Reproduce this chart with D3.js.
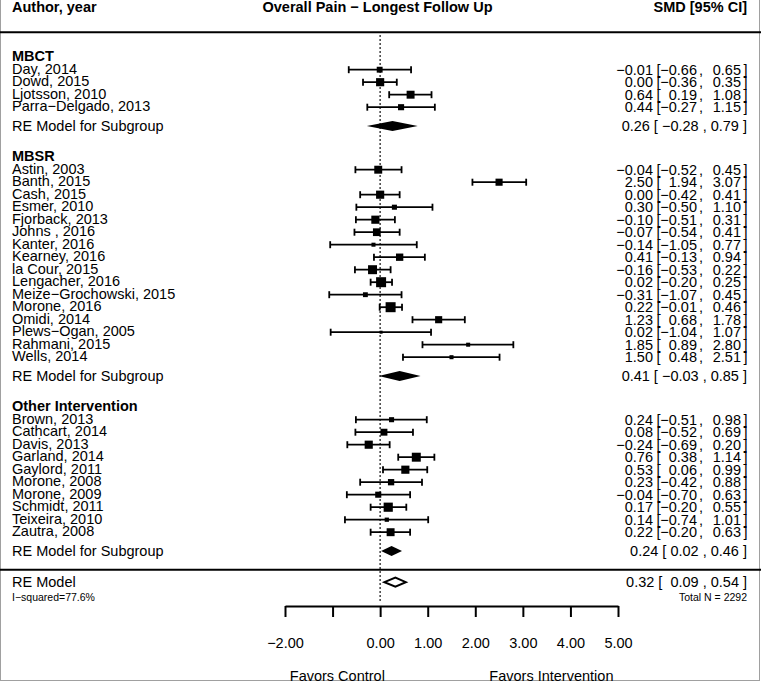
<!DOCTYPE html>
<html>
<head>
<meta charset="utf-8">
<script src="https://cdn.jsdelivr.net/npm/d3@7"></script>
<style>
  html, body { margin: 0; padding: 0; background: #fff; }
  svg { display: block; }
  text { font-family: "Liberation Sans", Arial, Helvetica, sans-serif; fill: #000; }
</style>
</head>
<body>
<svg id="chart" width="761" height="682"></svg>
<script>
// ---------------- data ----------------
const groups = ["MBCT", "MBSR", "Other Intervention"];

const studyLabels = [
  "Day, 2014", "Dowd, 2015", "Ljotsson, 2010", "Parra\u2212Delgado, 2013",
  "Astin, 2003", "Banth, 2015", "Cash, 2015", "Esmer, 2010", "Fjorback, 2013",
  "Johns , 2016", "Kanter, 2016", "Kearney, 2016", "la Cour, 2015", "Lengacher, 2016",
  "Meize\u2212Grochowski, 2015", "Morone, 2016", "Omidi, 2014", "Plews\u2212Ogan, 2005",
  "Rahmani, 2015", "Wells, 2014",
  "Brown, 2013", "Cathcart, 2014", "Davis, 2013", "Garland, 2014", "Gaylord, 2011",
  "Morone, 2008", "Morone, 2009", "Schmidt, 2011", "Teixeira, 2010", "Zautra, 2008"
];
const studyGroup = [
  0, 0, 0, 0,
  1, 1, 1, 1, 1, 1, 1, 1, 1, 1, 1, 1, 1, 1, 1, 1,
  2, 2, 2, 2, 2, 2, 2, 2, 2, 2
];
const studyEst = [
  -0.01, 0.00, 0.64, 0.44,
  -0.04, 2.50, 0.00, 0.30, -0.10, -0.07, -0.14, 0.41, -0.16, 0.02, -0.31, 0.22, 1.23, 0.02, 1.85, 1.50,
  0.24, 0.08, -0.24, 0.76, 0.53, 0.23, -0.04, 0.17, 0.14, 0.22
];
const studyLower = [
  -0.66, -0.36, 0.19, -0.27,
  -0.52, 1.94, -0.42, -0.50, -0.51, -0.54, -1.05, -0.13, -0.53, -0.20, -1.07, -0.01, 0.68, -1.04, 0.89, 0.48,
  -0.51, -0.52, -0.69, 0.38, 0.06, -0.42, -0.70, -0.20, -0.74, -0.20
];
const studyUpper = [
  0.65, 0.35, 1.08, 1.15,
  0.45, 3.07, 0.41, 1.10, 0.31, 0.41, 0.77, 0.94, 0.22, 0.25, 0.45, 0.46, 1.78, 1.07, 2.80, 2.51,
  0.98, 0.69, 0.20, 1.14, 0.99, 0.88, 0.63, 0.55, 1.01, 0.63
];
// estimated study weights (%) read from the square sizes
const studyWeight = [
  3.0, 4.1, 4.0, 3.1,
  4.0, 3.6, 4.1, 2.6, 4.1, 3.9, 2.1, 3.7, 4.5, 5.0, 2.5, 5.0, 3.6, 1.6, 2.1, 2.1,
  2.6, 3.5, 4.1, 4.5, 4.1, 3.2, 3.1, 4.6, 2.2, 4.0
];

const subgroupEst   = [0.26, 0.41, 0.24];
const subgroupLower = [-0.28, -0.03, 0.02];
const subgroupUpper = [0.79, 0.85, 0.46];

const overallEst = 0.32, overallLower = 0.09, overallUpper = 0.54;
const iSquared = "I\u2212squared=77.6%";
const totalN = "Total N = 2292";

const tickValues = [-2, -1, 0, 1, 2, 3, 4, 5];
const tickLabels = ["\u22122.00", "", "0.00", "1.00", "2.00", "3.00", "4.00", "5.00"];

const titleText = "Overall Pain \u2212 Longest Follow Up";
const leftHeader = "Author, year";
const rightHeader = "SMD [95% CI]";
const favorsLeft = "Favors Control";
const favorsRight = "Favors Intervention";

// ---------------- layout ----------------
const W = 761, H = 682;
const svg = d3.select("#chart");

const x = d3.scaleLinear().domain([-2, 5]).range([285, 618]);
const y = d3.scaleLinear().domain([0, 41]).range([69.7, 582.2]);
const sq = d3.scaleLinear().domain(d3.extent(studyWeight)).range([3, 10]);

const fmt = d3.format(".2f");
const labelX = 12;
const rightEdge = 747;
const FS = 14.5;

// compute row positions
let row = -1;
const headerRows = [], reRows = [], studyRows = new Array(studyLabels.length);
groups.forEach((g, gi) => {
  headerRows.push(row);
  let r = row;
  studyLabels.forEach((s, i) => {
    if (studyGroup[i] === gi) { r += 1; studyRows[i] = r; }
  });
  const re = r + 1.5;
  reRows.push(re);
  row = re + 2.5;
});
const sepRow = reRows[reRows.length - 1] + 1.5;
const overallRow = sepRow + 1;

// frame
svg.append("rect").attr("x", 0.5).attr("y", -2).attr("width", 759).attr("height", 682.5)
  .attr("fill", "none").attr("stroke", "#a0a0a0").attr("stroke-width", 1);

// headers
const headY = 12;
svg.append("text").attr("x", labelX).attr("y", headY).attr("font-size", FS)
  .attr("font-weight", "bold").text(leftHeader);
svg.append("text").attr("x", 377.5).attr("y", headY).attr("font-size", FS)
  .attr("font-weight", "bold").attr("text-anchor", "middle").text(titleText);
svg.append("text").attr("x", rightEdge).attr("y", headY).attr("font-size", FS)
  .attr("font-weight", "bold").attr("text-anchor", "end").text(rightHeader);

// horizontal rules
svg.append("line").attr("x1", 0).attr("x2", W).attr("y1", y(-3)).attr("y2", y(-3))
  .attr("stroke", "#000").attr("stroke-width", 2);
svg.append("line").attr("x1", 0).attr("x2", W).attr("y1", y(sepRow)).attr("y2", y(sepRow))
  .attr("stroke", "#000").attr("stroke-width", 2);

// reference line at 0
svg.append("line").attr("x1", x(0)).attr("x2", x(0)).attr("y1", y(-2.75)).attr("y2", y(42.6))
  .attr("stroke", "#000").attr("stroke-width", 1.5).attr("stroke-dasharray", "1.5,2.5");

// group headers
groups.forEach((g, gi) => {
  svg.append("text").attr("x", labelX).attr("y", y(headerRows[gi]) + 4)
    .attr("font-size", FS).attr("font-weight", "bold").text(g);
});

// studies
const st = svg.append("g");
studyLabels.forEach((lab, i) => {
  const yy = y(studyRows[i]);
  st.append("text").attr("x", labelX).attr("y", yy + 4).attr("font-size", FS).text(lab);
  // CI
  st.append("line").attr("x1", x(studyLower[i])).attr("x2", x(studyUpper[i]))
    .attr("y1", yy).attr("y2", yy).attr("stroke", "#000").attr("stroke-width", 1.8);
  [studyLower[i], studyUpper[i]].forEach(v => {
    st.append("line").attr("x1", x(v)).attr("x2", x(v)).attr("y1", yy - 3.5).attr("y2", yy + 3.5)
      .attr("stroke", "#000").attr("stroke-width", 1.8);
  });
  const s = sq(studyWeight[i]);
  st.append("rect").attr("x", x(studyEst[i]) - s / 2).attr("y", yy - s / 2)
    .attr("width", s).attr("height", s).attr("fill", "#000");
  // annotation
  const ty = yy + 5;
  st.append("text").attr("x", 653).attr("y", ty).attr("font-size", FS).attr("text-anchor", "end").text(fmt(studyEst[i]));
  st.append("text").attr("x", 656.5).attr("y", ty).attr("font-size", FS).text("[");
  st.append("text").attr("x", 697).attr("y", ty).attr("font-size", FS).attr("text-anchor", "end").text(fmt(studyLower[i]));
  st.append("text").attr("x", 699).attr("y", ty).attr("font-size", FS).text(",");
  st.append("text").attr("x", 741).attr("y", ty).attr("font-size", FS).attr("text-anchor", "end").text(fmt(studyUpper[i]));
  st.append("text").attr("x", 743.5).attr("y", ty).attr("font-size", FS).text("]");
});

// diamond path
function diamond(est, lo, hi, yy, h) {
  return `M${x(lo)},${yy}L${x(est)},${yy - h}L${x(hi)},${yy}L${x(est)},${yy + h}Z`;
}

// subgroup summaries
groups.forEach((g, gi) => {
  const yy = y(reRows[gi]);
  svg.append("text").attr("x", labelX).attr("y", yy + 5).attr("font-size", FS).text("RE Model for Subgroup");
  svg.append("path").attr("d", diamond(subgroupEst[gi], subgroupLower[gi], subgroupUpper[gi], yy, 5))
    .attr("fill", "#000");
  svg.append("text").attr("x", rightEdge).attr("y", yy + 5).attr("font-size", FS)
    .attr("text-anchor", "end").style("white-space", "pre")
    .text(`${fmt(subgroupEst[gi])} [ ${fmt(subgroupLower[gi])} , ${fmt(subgroupUpper[gi])} ]`);
});

// overall
{
  const yy = y(overallRow);
  svg.append("text").attr("x", labelX).attr("y", yy + 5).attr("font-size", FS).text("RE Model");
  svg.append("path").attr("d", diamond(overallEst, overallLower, overallUpper, yy, 4.5))
    .attr("fill", "#fff").attr("stroke", "#000").attr("stroke-width", 2);
  svg.append("text").attr("x", rightEdge).attr("y", yy + 5).attr("font-size", FS)
    .attr("text-anchor", "end").style("white-space", "pre")
    .text(`${fmt(overallEst)} [  ${fmt(overallLower)} , ${fmt(overallUpper)} ]`);
  svg.append("text").attr("x", labelX).attr("y", y(overallRow + 1.2) + 4).attr("font-size", 10.5).text(iSquared);
  svg.append("text").attr("x", rightEdge).attr("y", y(overallRow + 1.2) + 4).attr("font-size", 10.5)
    .attr("text-anchor", "end").text(totalN);
}

// axis
const axisY = 606;
const axis = d3.axisBottom(x).tickValues(tickValues)
  .tickFormat((d, i) => tickLabels[i]).tickSizeInner(11).tickSizeOuter(0).tickPadding(21);
const ag = svg.append("g").attr("transform", `translate(0,${axisY})`).call(axis);
ag.select(".domain").attr("stroke", "#000").attr("stroke-width", 2);
ag.selectAll(".tick line").attr("stroke", "#000").attr("stroke-width", 2);
ag.selectAll(".tick text").attr("font-size", FS)
  .attr("font-family", "'Liberation Sans', Arial, sans-serif").attr("fill", "#000");

// favors labels
svg.append("text").attr("x", x(-0.9)).attr("y", 681).attr("font-size", FS)
  .attr("text-anchor", "middle").text(favorsLeft);
svg.append("text").attr("x", x(3.6)).attr("y", 681).attr("font-size", FS)
  .attr("text-anchor", "middle").text(favorsRight);
</script>
</body>
</html>
